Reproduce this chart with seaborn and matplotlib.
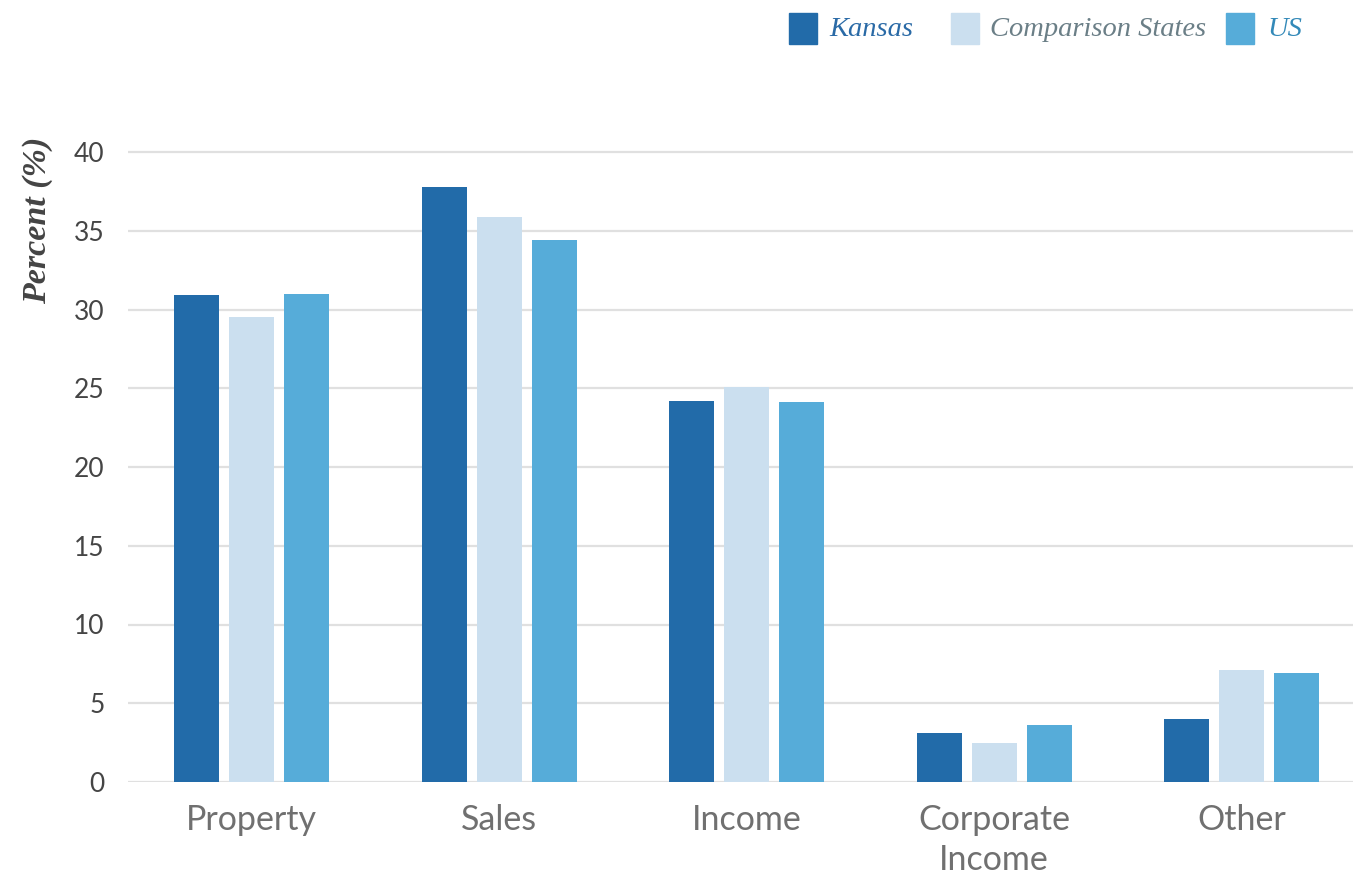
import matplotlib
matplotlib.use("Agg")
import matplotlib.pyplot as plt
from matplotlib.patches import Rectangle
import seaborn as sns
import pandas as pd

categories = ["Property", "Sales", "Income", "Corporate\nIncome", "Other"]
series = ["Kansas", "Comparison States", "US"]
kansas = [30.9, 37.8, 24.2, 3.1, 4.0]
comparison = [29.5, 35.9, 25.1, 2.5, 7.1]
us = [31.0, 34.4, 24.1, 3.6, 6.9]
y_ticks = [0, 5, 10, 15, 20, 25, 30, 35, 40]

colors = ["#226ba9", "#cbdfef", "#56acd9"]
legend_text_colors = ["#2a6aa6", "#6b7f87", "#3389b8"]

df = pd.DataFrame({
    "category": categories * 3,
    "series": [s for s in series for _ in categories],
    "value": kansas + comparison + us,
})

sns.set_theme(style="white")
plt.rcParams["font.family"] = ["Lato", "DejaVu Sans"]

W, H = 1353, 876
fig = plt.figure(figsize=(W / 100, H / 100), dpi=100)
ax_left, ax_right = 128, 1353
ax_bottom, ax_top = 782, 152 - 2
ax = fig.add_axes([ax_left / W, (H - ax_bottom) / H,
                   (ax_right - ax_left) / W, (ax_bottom - ax_top) / H])

sns.barplot(data=df, x="category", y="value", hue="series",
            order=categories, hue_order=series, palette=colors,
            width=0.667, gap=0.18, saturation=1, linewidth=0,
            legend=False, ax=ax)

ax.set_xlim(-0.5, 4.45)
ax.set_ylim(0, 40 * (ax_bottom - ax_top) / (ax_bottom - 152))
ax.set_yticks(y_ticks)
ax.set_yticklabels([str(t) for t in y_ticks])
ax.yaxis.grid(True, color="#e0e0e0", linewidth=1.6)
ax.set_axisbelow(True)
for s in ax.spines.values():
    s.set_visible(False)
ax.tick_params(axis="y", length=0, pad=17, labelsize=19, labelcolor="#454545")
ax.tick_params(axis="x", length=0, pad=16, labelsize=24.5, labelcolor="#707070")
for lbl in ax.get_xticklabels():
    lbl.set_linespacing(1.28)
ax.set_xlabel("")
ax.set_ylabel("")

fig.text(38 / W, 1 - 220 / H, "Percent (%)", rotation=90, ha="center", va="center",
         fontsize=24.5, fontstyle="italic", fontweight="bold",
         family=["Liberation Serif", "DejaVu Serif"], color="#444444")

# legend across the top right
legend_items = [(789, 829), (951, 990), (1226, 1267)]
for (px, tx), name, c, tc in zip(legend_items, series, colors, legend_text_colors):
    fig.patches.append(Rectangle((px / W, 1 - 44 / H), 28 / W, 31 / H,
                                 transform=fig.transFigure, color=c))
    fig.text(tx / W, 1 - 30 / H, name, ha="left", va="center", fontsize=20.5,
             fontstyle="italic", family=["Liberation Serif", "DejaVu Serif"], color=tc)

fig.savefig("out.png", dpi=100)
